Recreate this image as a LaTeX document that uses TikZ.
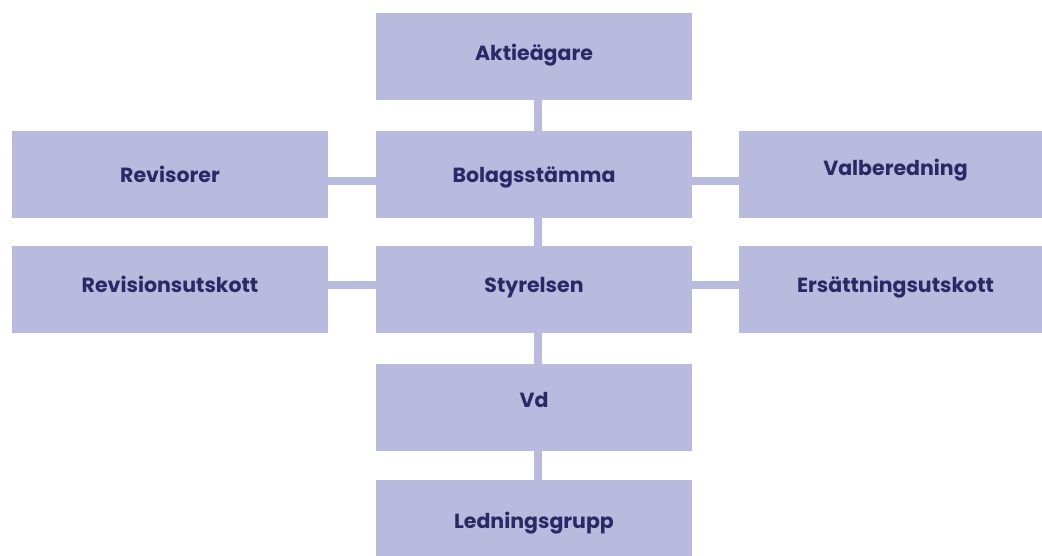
\documentclass[tikz,border=0pt]{standalone}
\usepackage{fontspec}
\setmainfont{Poppins}
\definecolor{boxc}{HTML}{B8BADE}
\definecolor{txtc}{HTML}{2A2966}
\begin{document}
\begin{tikzpicture}[x=1pt,y=-1pt,
  orgbox/.style={fill=boxc,draw=none,inner sep=0pt,minimum width=316pt,minimum height=87pt},
  lbl/.style={text=txtc,font=\fontsize{20.5}{20.5}\selectfont\bfseries,inner sep=0pt,text height=14.3pt,text depth=0pt,anchor=center},
  conn/.style={draw=boxc,line width=8pt}]
\useasboundingbox (0,0) rectangle (1042,556);
\clip (0,0) rectangle (1042,556);
% boxes
\node[orgbox] (A)  at (534,56.5) {};
\node[orgbox] (B)  at (534,174.5) {};
\node[orgbox] (R)  at (170,174.5) {};
\node[orgbox] (V)  at (897,174.5) {};
\node[orgbox] (S)  at (534,289.5) {};
\node[orgbox] (RU) at (170,289.5) {};
\node[orgbox] (EU) at (897,289.5) {};
\node[orgbox] (D)  at (534,407.5) {};
\node[orgbox] (L)  at (534,523.5) {};
% connectors
\draw[conn] ([xshift=4pt]A.south) -- ([xshift=4pt]B.north);
\draw[conn] ([xshift=4pt]B.south) -- ([xshift=4pt]S.north);
\draw[conn] ([xshift=4pt]S.south) -- ([xshift=4pt]D.north);
\draw[conn] ([xshift=4pt]D.south) -- ([xshift=4pt]L.north);
\draw[conn] ([yshift=-6.5pt]R.east) -- ([yshift=-6.5pt]B.west);
\draw[conn] ([yshift=-6.5pt]B.east) -- ([yshift=-6.5pt]V.west);
\draw[conn] ([yshift=4.5pt]RU.east) -- ([yshift=4.5pt]S.west);
\draw[conn] ([yshift=4.5pt]S.east) -- ([yshift=4.5pt]EU.west);
% labels
\node[lbl] (tA)  at (534,53) {Aktieägare};
\node[lbl] (tB)  at (534,175) {Bolagsstämma};
\node[lbl] (tR)  at (170,175) {Revisorer};
\node[lbl] (tV)  at (895.5,168.5) {Valberedning};
\node[lbl] (tS)  at (534,285) {Styrelsen};
\node[lbl] (tRU) at (170,285) {Revisionsutskott};
\node[lbl] (tEU) at (895.5,285) {Ersättningsutskott};
\node[lbl] (tD)  at (534,400.5) {Vd};
\node[lbl] (tL)  at (534,521.5) {Ledningsgrupp};
\end{tikzpicture}
\end{document}
